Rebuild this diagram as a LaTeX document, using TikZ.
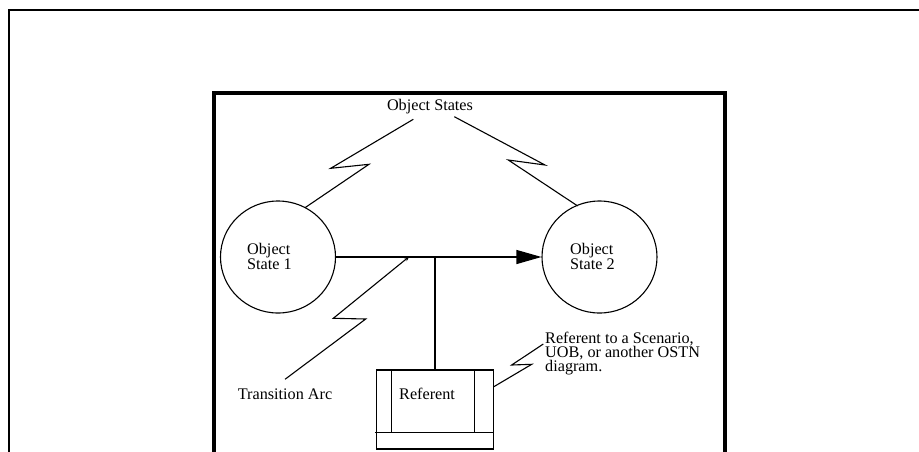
\documentclass[tikz,border=0pt]{standalone}
\usepackage{fontspec}
\setmainfont{Liberation Serif}
\usetikzlibrary{arrows.meta,shapes.geometric}
\begin{document}
\begin{tikzpicture}[x=1pt,y=-1pt,
  lbl/.style={inner sep=0pt,font=\fontsize{16.2}{14.2}\selectfont,align=left},
  statecirc/.style={draw,line width=1.1pt,ellipse,minimum width=115pt,minimum height=112pt,inner sep=0pt},
  thin/.style={line width=1.1pt},
  bolt/.style={line width=1.1pt,line join=miter}]
\useasboundingbox (0,0) rectangle (919,451);
% outer frame
\draw[line width=2pt] (8.5,460) -- (8.5,10) -- (930,10);
% inner thick frame
\draw[line width=4pt] (214,460) -- (214,93) -- (725,93) -- (725,460);
% states
\node[statecirc] (s1) at (278,257) {};
\node[statecirc] (s2) at (599.5,257) {};
\node[lbl,anchor=west] (t1) at (247,256.5) {Object\\State 1};
\node[lbl,anchor=west] (t2) at (570,256.5) {Object\\State 2};
% transition arc
\draw[thin,-{Triangle[length=25pt,width=14pt]}] (s1.east) -- (s2.west);
% referent box
\node[draw,thin,minimum width=116.6pt,minimum height=79pt,inner sep=0pt] (rb) at (435,409.5) {};
\node[lbl,anchor=west] (rt) at (399,394) {Referent};
\draw[thin] ([xshift=15.6pt]rb.north west) -- ([xshift=15.6pt,yshift=17pt]rb.south west);
\draw[thin] ([xshift=-19.3pt]rb.north east) -- ([xshift=-19.3pt,yshift=17pt]rb.south east);
\draw[thin] ([xshift=-1.2pt,yshift=17pt]rb.south west) -- ([yshift=17pt]rb.south east);
\coordinate (j) at (435,256.5);
\draw[thin] (j) -- (rb.north);
% labels
\node[lbl] (os) at (430,107) {Object States};
\node[lbl,anchor=west] (ta) at (237.7,394) {Transition Arc};
\node[lbl,anchor=west] (rtx) at (545,353.5) {Referent to a Scenario,\\UOB, or another OSTN\\diagram.};
% bolts
\coordinate (l1) at (413.3,119.3);
\coordinate (l2) at (330.7,168.3);
\coordinate (l3) at (369,164.3);
\coordinate (l4) at (305,207.7);
\draw[bolt] (l1) -- (l2) -- (l3) -- (l4);
\coordinate (r1) at (454.3,116.7);
\coordinate (r2) at (545,165);
\coordinate (r3) at (508.3,160);
\coordinate (r4) at (577.7,206);
\draw[bolt] (r1) -- (r2) -- (r3) -- (r4);
\coordinate (a1) at (409.3,256.5);
\coordinate (a2) at (333.3,318.3);
\coordinate (a3) at (365.7,319);
\coordinate (a4) at (285,379.3);
\draw[bolt,{Stealth[length=5pt,width=4pt]}-] (a1) -- (a2) -- (a3) -- (a4);
\coordinate (f2) at (531.7,364.3);
\coordinate (f3) at (511.7,365);
\coordinate (f4) at (543.3,344);
\draw[bolt] ([yshift=22.8pt]rb.east) -- (f2) -- (f3) -- (f4);
\end{tikzpicture}
\end{document}
